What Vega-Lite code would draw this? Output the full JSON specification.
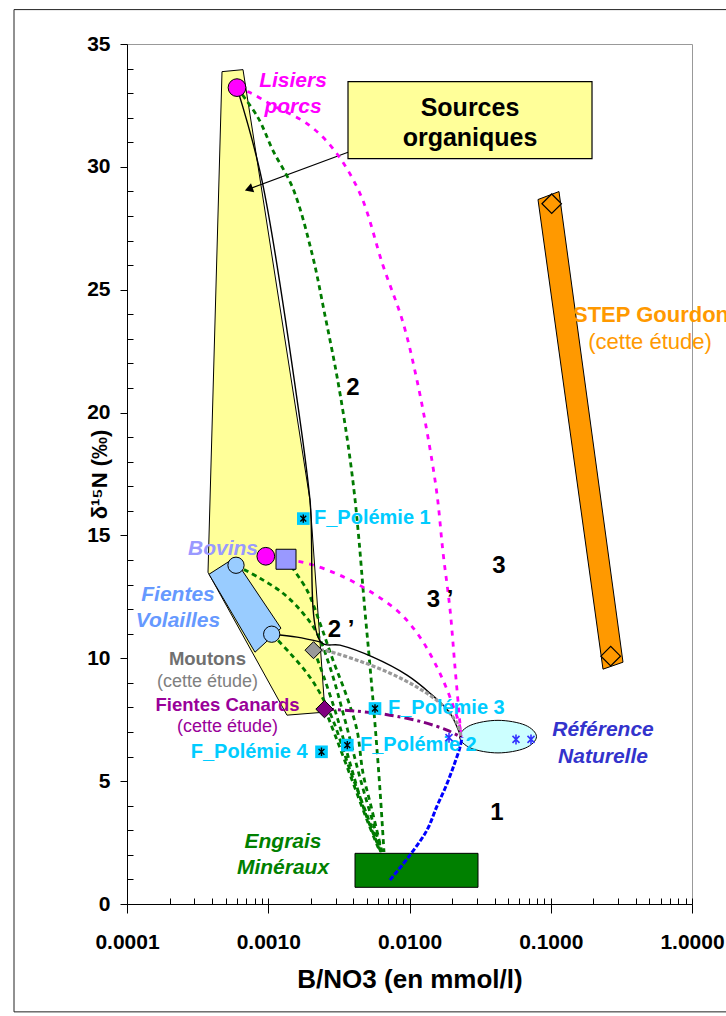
{
  "$schema": "https://vega.github.io/schema/vega-lite/v6.json",
  "width": 565,
  "height": 860,
  "autosize": {"type": "none"},
  "padding": {"left": 127, "top": 44, "right": 34, "bottom": 112},
  "background": "white",
  "config": {
    "view": {"stroke": "#999999", "strokeWidth": 1},
    "font": "Liberation Sans",
    "text": {"font": "Liberation Sans"}
  },
  "datasets": {
    "courbes": [
      {"serie": "Lisiers-Engrais", "i": 1, "x": 0.0006008, "y": 33.225},
      {"serie": "Lisiers-Engrais", "i": 2, "x": 0.0008461, "y": 32.005},
      {"serie": "Lisiers-Engrais", "i": 3, "x": 0.0010806, "y": 30.663},
      {"serie": "Lisiers-Engrais", "i": 4, "x": 0.001497, "y": 29.117},
      {"serie": "Lisiers-Engrais", "i": 5, "x": 0.0020405, "y": 26.474},
      {"serie": "Lisiers-Engrais", "i": 6, "x": 0.002522, "y": 23.953},
      {"serie": "Lisiers-Engrais", "i": 7, "x": 0.0030671, "y": 21.472},
      {"serie": "Lisiers-Engrais", "i": 8, "x": 0.0036101, "y": 18.991},
      {"serie": "Lisiers-Engrais", "i": 9, "x": 0.0040465, "y": 16.836},
      {"serie": "Lisiers-Engrais", "i": 10, "x": 0.0043902, "y": 14.803},
      {"serie": "Lisiers-Engrais", "i": 11, "x": 0.004763, "y": 12.363},
      {"serie": "Lisiers-Engrais", "i": 12, "x": 0.0052523, "y": 9.679},
      {"serie": "Lisiers-Engrais", "i": 13, "x": 0.0056984, "y": 7.32},
      {"serie": "Lisiers-Engrais", "i": 14, "x": 0.0061823, "y": 4.636},
      {"serie": "Lisiers-Engrais", "i": 15, "x": 0.006599, "y": 2.115},

      {"serie": "Lisiers-Référence", "i": 1, "x": 0.0006008, "y": 33.225},
      {"serie": "Lisiers-Référence", "i": 2, "x": 0.0007427, "y": 33.022},
      {"serie": "Lisiers-Référence", "i": 3, "x": 0.0010806, "y": 32.493},
      {"serie": "Lisiers-Référence", "i": 4, "x": 0.0018808, "y": 31.761},
      {"serie": "Lisiers-Référence", "i": 5, "x": 0.0028735, "y": 30.744},
      {"serie": "Lisiers-Référence", "i": 6, "x": 0.0044624, "y": 28.914},
      {"serie": "Lisiers-Référence", "i": 7, "x": 0.0064923, "y": 25.986},
      {"serie": "Lisiers-Référence", "i": 8, "x": 0.0089946, "y": 23.668},
      {"serie": "Lisiers-Référence", "i": 9, "x": 0.0113, "y": 21.309},
      {"serie": "Lisiers-Référence", "i": 10, "x": 0.01352, "y": 18.991},
      {"serie": "Lisiers-Référence", "i": 11, "x": 0.015656, "y": 16.673},
      {"serie": "Lisiers-Référence", "i": 12, "x": 0.017265, "y": 14.315},
      {"serie": "Lisiers-Référence", "i": 13, "x": 0.019352, "y": 11.997},
      {"serie": "Lisiers-Référence", "i": 14, "x": 0.020995, "y": 9.638},
      {"serie": "Lisiers-Référence", "i": 15, "x": 0.022779, "y": 7.32},
      {"serie": "Lisiers-Référence", "i": 16, "x": 0.023153, "y": 6.791},

      {"serie": "Bovins-Référence", "i": 1, "x": 0.000964, "y": 14.152},
      {"serie": "Bovins-Référence", "i": 2, "x": 0.001314, "y": 14.03},
      {"serie": "Bovins-Référence", "i": 3, "x": 0.0018808, "y": 13.867},
      {"serie": "Bovins-Référence", "i": 4, "x": 0.0032207, "y": 13.379},
      {"serie": "Bovins-Référence", "i": 5, "x": 0.0055156, "y": 12.647},
      {"serie": "Bovins-Référence", "i": 6, "x": 0.0085653, "y": 11.834},
      {"serie": "Bovins-Référence", "i": 7, "x": 0.011867, "y": 10.858},
      {"serie": "Bovins-Référence", "i": 8, "x": 0.015656, "y": 9.638},
      {"serie": "Bovins-Référence", "i": 9, "x": 0.019352, "y": 8.418},
      {"serie": "Bovins-Référence", "i": 10, "x": 0.022779, "y": 7.198},
      {"serie": "Bovins-Référence", "i": 11, "x": 0.023153, "y": 6.791},

      {"serie": "Lisiers-2’-Référence", "i": 1, "x": 0.0006008, "y": 33.225},
      {"serie": "Lisiers-2’-Référence", "i": 2, "x": 0.0009031, "y": 29.443},
      {"serie": "Lisiers-2’-Référence", "i": 3, "x": 0.001678, "y": 19.683},
      {"serie": "Lisiers-2’-Référence", "i": 4, "x": 0.001975, "y": 16.43},
      {"serie": "Lisiers-2’-Référence", "i": 5, "x": 0.0023629, "y": 10.655},
      {"serie": "Lisiers-2’-Référence", "i": 6, "x": 0.0032207, "y": 10.533},
      {"serie": "Lisiers-2’-Référence", "i": 7, "x": 0.0055156, "y": 10.045},
      {"serie": "Lisiers-2’-Référence", "i": 8, "x": 0.0096007, "y": 9.313},
      {"serie": "Lisiers-2’-Référence", "i": 9, "x": 0.013968, "y": 8.581},
      {"serie": "Lisiers-2’-Référence", "i": 10, "x": 0.019352, "y": 7.767},
      {"serie": "Lisiers-2’-Référence", "i": 11, "x": 0.023153, "y": 6.791},

      {"serie": "Volailles-2’", "i": 1, "x": 0.001063, "y": 10.98},
      {"serie": "Volailles-2’", "i": 2, "x": 0.0016, "y": 10.86},
      {"serie": "Volailles-2’", "i": 3, "x": 0.0023629, "y": 10.655},

      {"serie": "Moutons-Référence", "i": 1, "x": 0.0021081, "y": 10.329},
      {"serie": "Moutons-Référence", "i": 2, "x": 0.0024412, "y": 10.329},
      {"serie": "Moutons-Référence", "i": 3, "x": 0.0042493, "y": 9.923},
      {"serie": "Moutons-Référence", "i": 4, "x": 0.007277, "y": 9.394},
      {"serie": "Moutons-Référence", "i": 5, "x": 0.0113, "y": 8.825},
      {"serie": "Moutons-Référence", "i": 6, "x": 0.016441, "y": 8.174},
      {"serie": "Moutons-Référence", "i": 7, "x": 0.021691, "y": 7.361},
      {"serie": "Moutons-Référence", "i": 8, "x": 0.023153, "y": 6.791},

      {"serie": "Canards-Référence", "i": 1, "x": 0.002522, "y": 7.93},
      {"serie": "Canards-Référence", "i": 2, "x": 0.0042493, "y": 7.849},
      {"serie": "Canards-Référence", "i": 3, "x": 0.007277, "y": 7.686},
      {"serie": "Canards-Référence", "i": 4, "x": 0.012462, "y": 7.401},
      {"serie": "Canards-Référence", "i": 5, "x": 0.018428, "y": 7.076},
      {"serie": "Canards-Référence", "i": 6, "x": 0.023153, "y": 6.791},

      {"serie": "Engrais-Référence", "i": 1, "x": 0.007277, "y": 0.976},
      {"serie": "Engrais-Référence", "i": 2, "x": 0.010082, "y": 1.993},
      {"serie": "Engrais-Référence", "i": 3, "x": 0.013301, "y": 3.009},
      {"serie": "Engrais-Référence", "i": 4, "x": 0.015656, "y": 3.985},
      {"serie": "Engrais-Référence", "i": 5, "x": 0.01813, "y": 4.799},
      {"serie": "Engrais-Référence", "i": 6, "x": 0.020656, "y": 5.653},
      {"serie": "Engrais-Référence", "i": 7, "x": 0.022779, "y": 6.385},
      {"serie": "Engrais-Référence", "i": 8, "x": 0.023533, "y": 6.791},

      {"serie": "Bovins-Engrais", "i": 1, "x": 0.0013356, "y": 14.03},
      {"serie": "Bovins-Engrais", "i": 2, "x": 0.0018808, "y": 12.769},
      {"serie": "Bovins-Engrais", "i": 3, "x": 0.0023247, "y": 11.427},
      {"serie": "Bovins-Engrais", "i": 4, "x": 0.0028735, "y": 9.923},
      {"serie": "Bovins-Engrais", "i": 5, "x": 0.0036101, "y": 8.418},
      {"serie": "Bovins-Engrais", "i": 6, "x": 0.0042493, "y": 7.076},
      {"serie": "Bovins-Engrais", "i": 7, "x": 0.004686, "y": 5.327},
      {"serie": "Bovins-Engrais", "i": 8, "x": 0.0054264, "y": 3.823},
      {"serie": "Bovins-Engrais", "i": 9, "x": 0.0063872, "y": 2.115},

      {"serie": "Volailles1-Engrais", "i": 1, "x": 0.0005911, "y": 13.786},
      {"serie": "Volailles1-Engrais", "i": 2, "x": 0.0008742, "y": 13.257},
      {"serie": "Volailles1-Engrais", "i": 3, "x": 0.0012718, "y": 12.647},
      {"serie": "Volailles1-Engrais", "i": 4, "x": 0.0017621, "y": 11.834},
      {"serie": "Volailles1-Engrais", "i": 5, "x": 0.0022138, "y": 11.021},
      {"serie": "Volailles1-Engrais", "i": 6, "x": 0.0027363, "y": 9.638},
      {"serie": "Volailles1-Engrais", "i": 7, "x": 0.0034943, "y": 7.483},
      {"serie": "Volailles1-Engrais", "i": 8, "x": 0.0046104, "y": 4.839},
      {"serie": "Volailles1-Engrais", "i": 9, "x": 0.0063872, "y": 2.115},

      {"serie": "Volailles2-Engrais", "i": 1, "x": 0.001063, "y": 10.98},
      {"serie": "Volailles2-Engrais", "i": 2, "x": 0.0014256, "y": 10.207},
      {"serie": "Volailles2-Engrais", "i": 3, "x": 0.0018808, "y": 9.394},
      {"serie": "Volailles2-Engrais", "i": 4, "x": 0.0023247, "y": 8.581},
      {"serie": "Volailles2-Engrais", "i": 5, "x": 0.0028735, "y": 7.483},
      {"serie": "Volailles2-Engrais", "i": 6, "x": 0.003791, "y": 5.449},
      {"serie": "Volailles2-Engrais", "i": 7, "x": 0.0050022, "y": 3.619},
      {"serie": "Volailles2-Engrais", "i": 8, "x": 0.0062839, "y": 2.115},

      {"serie": "Moutons-Engrais", "i": 1, "x": 0.0021081, "y": 10.329},
      {"serie": "Moutons-Engrais", "i": 2, "x": 0.002522, "y": 9.109},
      {"serie": "Moutons-Engrais", "i": 3, "x": 0.0031176, "y": 7.483},
      {"serie": "Moutons-Engrais", "i": 4, "x": 0.0039167, "y": 5.449},
      {"serie": "Moutons-Engrais", "i": 5, "x": 0.0049208, "y": 3.619},
      {"serie": "Moutons-Engrais", "i": 6, "x": 0.0062839, "y": 2.115},

      {"serie": "Canards-Engrais", "i": 1, "x": 0.002522, "y": 7.93},
      {"serie": "Canards-Engrais", "i": 2, "x": 0.0030671, "y": 6.669},
      {"serie": "Canards-Engrais", "i": 3, "x": 0.0039167, "y": 5.043},
      {"serie": "Canards-Engrais", "i": 4, "x": 0.0050022, "y": 3.416},
      {"serie": "Canards-Engrais", "i": 5, "x": 0.0061823, "y": 2.115}
    ],
    "points": [
      {"nom": "Lisiers porcs", "x": 0.00060084, "y": 33.225},
      {"nom": "Bovins", "x": 0.00096084, "y": 14.152},
      {"nom": "Bovins moyenne", "x": 0.0013356, "y": 14.03},
      {"nom": "Fientes volailles", "x": 0.00059113, "y": 13.786},
      {"nom": "Fientes volailles", "x": 0.0010578, "y": 10.98},
      {"nom": "Moutons", "x": 0.002091, "y": 10.33},
      {"nom": "Fientes canards", "x": 0.0025017, "y": 7.93},
      {"nom": "STEP Gourdon", "x": 0.10156, "y": 28.5},
      {"nom": "STEP Gourdon", "x": 0.26572, "y": 10.085},
      {"nom": "Référence naturelle", "x": 0.056752, "y": 6.698},
      {"nom": "Référence naturelle", "x": 0.072473, "y": 6.698},
      {"nom": "Référence naturelle", "x": 0.01904, "y": 6.771},
      {"nom": "F_Polémie", "x": 0.0017707, "y": 15.685},
      {"nom": "F_Polémie", "x": 0.0056984, "y": 7.958},
      {"nom": "F_Polémie", "x": 0.0036278, "y": 6.466},
      {"nom": "F_Polémie", "x": 0.0023822, "y": 6.194}
    ]
  },
  "encoding": {
    "x": {"field": "x", "type": "quantitative", "scale": {"type": "log", "domain": [0.0001, 1], "nice": false}, "axis": null},
    "y": {"field": "y", "type": "quantitative", "scale": {"domain": [0, 35], "nice": false, "zero": false}, "axis": null}
  },
  "resolve": {"axis": {"x": "independent", "y": "independent"}, "scale": {"color": "independent"}},
  "layer": [
    {
      "data": {"values": [{"x": 0.00001585, "x2": 2.2, "y": 36.4, "y2": -4.39}]},
      "mark": {"type": "rect", "fillOpacity": 0, "stroke": "#222222", "strokeWidth": 1, "clip": false},
      "encoding": {"x2": {"field": "x2"}, "y2": {"field": "y2"}}
    },
    {
      "data": {"values": [
        {"i": 1, "x": 0.00047053, "y": 33.875},
        {"i": 2, "x": 0.00066264, "y": 33.957},
        {"i": 3, "x": 0.001975, "y": 16.43},
        {"i": 4, "x": 0.002522, "y": 7.808},
        {"i": 5, "x": 0.001357, "y": 7.686},
        {"i": 6, "x": 0.00037451, "y": 13.5}
      ]},
      "mark": {"type": "line", "interpolate": "linear-closed", "fill": "#FFFF99", "stroke": "black", "strokeWidth": 1},
      "encoding": {
        "x": {
          "field": "x", "type": "quantitative",
          "scale": {"type": "log", "domain": [0.0001, 1], "nice": false},
          "axis": {
            "orient": "bottom", "title": "B/NO3 (en mmol/l)",
            "values": [0.0001, 0.001, 0.01, 0.1, 1], "format": ".4f",
            "grid": false, "domainColor": "black", "domainWidth": 1, "tickColor": "black", "tickSize": 9,
            "labelFont": "Liberation Sans", "labelFontSize": 21, "labelFontWeight": "bold", "labelColor": "black",
            "labelPadding": 18, "labelFlush": false, "labelOverlap": false,
            "titleFont": "Liberation Sans", "titleFontSize": 26, "titleFontWeight": "bold", "titleColor": "black", "titlePadding": 14
          }
        },
        "y": {
          "field": "y", "type": "quantitative",
          "scale": {"domain": [0, 35], "nice": false, "zero": false},
          "axis": {
            "orient": "left", "title": "δ¹⁵N (‰)",
            "values": [0, 5, 10, 15, 20, 25, 30, 35],
            "grid": false, "domainColor": "black", "domainWidth": 1, "tickColor": "black", "tickSize": 7,
            "labelFont": "Liberation Sans", "labelFontSize": 21, "labelFontWeight": "bold", "labelColor": "black",
            "labelPadding": 10,
            "titleFont": "Liberation Sans", "titleFontSize": 22, "titleFontWeight": "bold", "titleColor": "black",
            "titleX": -28, "titleY": 430, "titleAngle": 270, "titleAlign": "center", "titleBaseline": "middle"
          }
        },
        "order": {"field": "i", "type": "quantitative"}
      }
    },
    {
      "data": {"values": [
        {"i": 1, "x": 0.00038066, "y": 13.42},
        {"i": 2, "x": 0.00057216, "y": 14.07},
        {"i": 3, "x": 0.001231, "y": 11.224},
        {"i": 4, "x": 0.0008057, "y": 10.248}
      ]},
      "mark": {"type": "line", "interpolate": "linear-closed", "fill": "#99CCFF", "stroke": "black", "strokeWidth": 1},
      "encoding": {
        "x": {
          "field": "x", "type": "quantitative",
          "scale": {"type": "log", "domain": [0.0001, 1], "nice": false},
          "axis": {
            "orient": "bottom", "title": null, "labels": false, "domain": false, "grid": false,
            "tickColor": "black", "tickSize": -6,
            "values": [0.0001, 0.0002, 0.0003, 0.0004, 0.0005, 0.0006, 0.0007, 0.0008, 0.0009,
                       0.001, 0.002, 0.003, 0.004, 0.005, 0.006, 0.007, 0.008, 0.009,
                       0.01, 0.02, 0.03, 0.04, 0.05, 0.06, 0.07, 0.08, 0.09,
                       0.1, 0.2, 0.3, 0.4, 0.5, 0.6, 0.7, 0.8, 0.9, 1]
          }
        },
        "y": {
          "field": "y", "type": "quantitative",
          "scale": {"domain": [0, 35], "nice": false, "zero": false},
          "axis": {
            "orient": "left", "title": null, "labels": false, "domain": false, "grid": false,
            "tickColor": "black", "tickSize": -6,
            "values": [1, 2, 3, 4, 6, 7, 8, 9, 11, 12, 13, 14, 16, 17, 18, 19, 21, 22, 23, 24, 26, 27, 28, 29, 31, 32, 33, 34]
          }
        },
        "order": {"field": "i", "type": "quantitative"}
      }
    },
    {
      "data": {"values": [
        {"i": 1, "x": 0.081232, "y": 28.67},
        {"i": 2, "x": 0.11439, "y": 28.995},
        {"i": 3, "x": 0.32472, "y": 9.841},
        {"i": 4, "x": 0.23437, "y": 9.557}
      ]},
      "mark": {"type": "line", "interpolate": "linear-closed", "fill": "#FF9900", "stroke": "black", "strokeWidth": 1},
      "encoding": {"order": {"field": "i", "type": "quantitative"}}
    },
    {
      "data": {"values": [{"x": 0.0041131, "x2": 0.030548, "y": 2.062, "y2": 0.679}]},
      "mark": {"type": "rect", "fill": "#008000", "stroke": "black", "strokeWidth": 1},
      "encoding": {"x2": {"field": "x2"}, "y2": {"field": "y2"}}
    },
    {
      "data": {"values": [
        {"i": 1, "x": 0.079273, "y": 6.812},
        {"i": 2, "x": 0.065936, "y": 7.279},
        {"i": 3, "x": 0.04232, "y": 7.475},
        {"i": 4, "x": 0.027163, "y": 7.279},
        {"i": 5, "x": 0.022593, "y": 6.812},
        {"i": 6, "x": 0.027163, "y": 6.344},
        {"i": 7, "x": 0.04232, "y": 6.149},
        {"i": 8, "x": 0.065936, "y": 6.344}
      ]},
      "mark": {"type": "line", "interpolate": "cardinal-closed", "fill": "#CCFFFF", "stroke": "black", "strokeWidth": 1},
      "encoding": {"order": {"field": "i", "type": "quantitative"}}
    },
    {
      "data": {"values": [{"x": 0.00367, "x2": 0.19593, "y": 33.469, "y2": 30.338}]},
      "mark": {"type": "rect", "fill": "#FFFF99", "stroke": "black", "strokeWidth": 1.2},
      "encoding": {"x2": {"field": "x2"}, "y2": {"field": "y2"}}
    },
    {
      "data": {"values": [
        {"i": 1, "x": 0.00367, "y": 30.594},
        {"i": 2, "x": 0.0007277, "y": 29.093}
      ]},
      "mark": {"type": "line", "color": "black", "strokeWidth": 1.2},
      "encoding": {"order": {"field": "i", "type": "quantitative"}}
    },
    {
      "data": {"values": [{"x": 0.0007277, "y": 29.093}]},
      "mark": {"type": "point", "shape": "triangle-up", "size": 90, "angle": 250, "filled": true, "color": "black", "opacity": 1}
    },
    {
      "data": {"name": "courbes"},
      "transform": [{"filter": {"field": "serie", "oneOf": ["Lisiers-Engrais", "Bovins-Engrais", "Volailles1-Engrais", "Volailles2-Engrais", "Moutons-Engrais", "Canards-Engrais"]}}],
      "mark": {"type": "line", "interpolate": "catmull-rom", "color": "#007A00", "strokeWidth": 2.8, "strokeDash": [5, 4]},
      "encoding": {"detail": {"field": "serie"}, "order": {"field": "i", "type": "quantitative"}}
    },
    {
      "data": {"name": "courbes"},
      "transform": [{"filter": {"field": "serie", "oneOf": ["Lisiers-Référence", "Bovins-Référence"]}}],
      "mark": {"type": "line", "interpolate": "catmull-rom", "color": "#FF00FF", "strokeWidth": 2.8, "strokeDash": [5, 6]},
      "encoding": {"detail": {"field": "serie"}, "order": {"field": "i", "type": "quantitative"}}
    },
    {
      "data": {"name": "courbes"},
      "transform": [{"filter": {"field": "serie", "oneOf": ["Lisiers-2’-Référence", "Volailles-2’"]}}],
      "mark": {"type": "line", "interpolate": "catmull-rom", "color": "black", "strokeWidth": 1.4},
      "encoding": {"detail": {"field": "serie"}, "order": {"field": "i", "type": "quantitative"}}
    },
    {
      "data": {"name": "courbes"},
      "transform": [{"filter": {"field": "serie", "equal": "Moutons-Référence"}}],
      "mark": {"type": "line", "interpolate": "catmull-rom", "color": "#999999", "strokeWidth": 3.2, "strokeDash": [4, 2]},
      "encoding": {"order": {"field": "i", "type": "quantitative"}}
    },
    {
      "data": {"name": "courbes"},
      "transform": [{"filter": {"field": "serie", "equal": "Canards-Référence"}}],
      "mark": {"type": "line", "interpolate": "catmull-rom", "color": "#800080", "strokeWidth": 3, "strokeDash": [9, 4, 3, 4]},
      "encoding": {"order": {"field": "i", "type": "quantitative"}}
    },
    {
      "data": {"name": "courbes"},
      "transform": [{"filter": {"field": "serie", "equal": "Engrais-Référence"}}],
      "mark": {"type": "line", "interpolate": "catmull-rom", "color": "#0000FF", "strokeWidth": 3, "strokeDash": [5, 2]},
      "encoding": {"order": {"field": "i", "type": "quantitative"}}
    },
    {
      "data": {"values": [
        {"texte": "Lisiers", "x": 0.001497, "y": 33.51},
        {"texte": "porcs", "x": 0.001497, "y": 32.45}
      ]},
      "mark": {"type": "text", "fontSize": 21, "fontWeight": "bold", "fontStyle": "italic", "color": "#FF00FF", "align": "center", "baseline": "middle"},
      "encoding": {"text": {"field": "texte"}}
    },
    {
      "data": {"values": [{"texte": "Bovins", "x": 0.00047824, "y": 14.437}]},
      "mark": {"type": "text", "fontSize": 21, "fontWeight": "bold", "fontStyle": "italic", "color": "#9999FF", "align": "center", "baseline": "middle"},
      "encoding": {"text": {"field": "texte"}}
    },
    {
      "data": {"values": [
        {"texte": "Fientes", "x": 0.00022965, "y": 12.566},
        {"texte": "Volailles", "x": 0.00022965, "y": 11.509}
      ]},
      "mark": {"type": "text", "fontSize": 21, "fontWeight": "bold", "fontStyle": "italic", "color": "#6699FF", "align": "center", "baseline": "middle"},
      "encoding": {"text": {"field": "texte"}}
    },
    {
      "data": {"values": [
        {"texte": "Engrais", "x": 0.0012718, "y": 2.521},
        {"texte": "Minéraux", "x": 0.0012718, "y": 1.464}
      ]},
      "mark": {"type": "text", "fontSize": 21, "fontWeight": "bold", "fontStyle": "italic", "color": "#008000", "align": "center", "baseline": "middle"},
      "encoding": {"text": {"field": "texte"}}
    },
    {
      "data": {"values": [
        {"texte": "Référence", "x": 0.23437, "y": 7.076},
        {"texte": "Naturelle", "x": 0.23437, "y": 5.978}
      ]},
      "mark": {"type": "text", "fontSize": 21, "fontWeight": "bold", "fontStyle": "italic", "color": "#3333CC", "align": "center", "baseline": "middle"},
      "encoding": {"text": {"field": "texte"}}
    },
    {
      "data": {"values": [
        {"texte": "Sources", "x": 0.026812, "y": 32.41},
        {"texte": "organiques", "x": 0.026812, "y": 31.19}
      ]},
      "mark": {"type": "text", "fontSize": 25, "fontWeight": "bold", "color": "black", "align": "center", "baseline": "middle"},
      "encoding": {"text": {"field": "texte"}}
    },
    {
      "data": {"values": [
        {"texte": "2", "x": 0.003981, "y": 20.98},
        {"texte": "3 ’", "x": 0.016441, "y": 12.363},
        {"texte": "3", "x": 0.043016, "y": 13.745},
        {"texte": "2 ’", "x": 0.0032736, "y": 11.143},
        {"texte": "1", "x": 0.041637, "y": 3.701}
      ]},
      "mark": {"type": "text", "fontSize": 24, "fontWeight": "bold", "color": "black", "align": "center", "baseline": "middle"},
      "encoding": {"text": {"field": "texte"}}
    },
    {
      "data": {"values": [
        {"texte": "F_Polémie 1", "x": 0.0021081, "y": 15.697},
        {"texte": "F_Polémie 3", "x": 0.0070432, "y": 7.971},
        {"texte": "F_Polémie 2", "x": 0.0044624, "y": 6.466}
      ]},
      "mark": {"type": "text", "fontSize": 20, "fontWeight": "bold", "color": "#00CCFF", "align": "left", "baseline": "middle"},
      "encoding": {"text": {"field": "texte"}}
    },
    {
      "data": {"values": [{"texte": "F_Polémie 4", "x": 0.0018962, "y": 6.181}]},
      "mark": {"type": "text", "fontSize": 20, "fontWeight": "bold", "color": "#00CCFF", "align": "right", "baseline": "middle"},
      "encoding": {"text": {"field": "texte"}}
    },
    {
      "data": {"values": [{"texte": "Moutons", "x": 0.000371, "y": 9.963}]},
      "mark": {"type": "text", "fontSize": 18.5, "fontWeight": "bold", "color": "#707070", "align": "center", "baseline": "middle"},
      "encoding": {"text": {"field": "texte"}}
    },
    {
      "data": {"values": [{"texte": "(cette étude)", "x": 0.000371, "y": 9.028}]},
      "mark": {"type": "text", "fontSize": 18, "color": "#808080", "align": "center", "baseline": "middle"},
      "encoding": {"text": {"field": "texte"}}
    },
    {
      "data": {"values": [{"texte": "Fientes Canards", "x": 0.000515, "y": 8.093}]},
      "mark": {"type": "text", "fontSize": 18.5, "fontWeight": "bold", "color": "#990099", "align": "center", "baseline": "middle"},
      "encoding": {"text": {"field": "texte"}}
    },
    {
      "data": {"values": [{"texte": "(cette étude)", "x": 0.000515, "y": 7.198}]},
      "mark": {"type": "text", "fontSize": 18, "color": "#990099", "align": "center", "baseline": "middle"},
      "encoding": {"text": {"field": "texte"}}
    },
    {
      "data": {"values": [{"texte": "STEP Gourdon", "x": 0.14373, "y": 23.953}]},
      "mark": {"type": "text", "fontSize": 22, "fontWeight": "bold", "color": "#FF9900", "align": "left", "baseline": "middle", "clip": false},
      "encoding": {"text": {"field": "texte"}}
    },
    {
      "data": {"values": [{"texte": "(cette étude)", "x": 0.50431, "y": 22.855}]},
      "mark": {"type": "text", "fontSize": 22, "color": "#FF9900", "align": "center", "baseline": "middle"},
      "encoding": {"text": {"field": "texte"}}
    },
    {
      "data": {"name": "points"},
      "transform": [{"filter": {"field": "nom", "oneOf": ["Lisiers porcs", "Bovins"]}}],
      "mark": {"type": "point", "shape": "circle", "size": 314, "filled": true, "fill": "#FF00FF", "stroke": "black", "strokeWidth": 1, "opacity": 1}
    },
    {
      "data": {"name": "points"},
      "transform": [{"filter": {"field": "nom", "equal": "Bovins moyenne"}}],
      "mark": {"type": "point", "shape": "square", "size": 400, "filled": true, "fill": "#9999FF", "stroke": "black", "strokeWidth": 1, "opacity": 1}
    },
    {
      "data": {"name": "points"},
      "transform": [{"filter": {"field": "nom", "equal": "Fientes volailles"}}],
      "mark": {"type": "point", "shape": "circle", "size": 265, "filled": true, "fill": "#99CCFF", "stroke": "black", "strokeWidth": 1, "opacity": 1}
    },
    {
      "data": {"name": "points"},
      "transform": [{"filter": {"field": "nom", "equal": "Moutons"}}],
      "mark": {"type": "point", "shape": "diamond", "size": 289, "filled": true, "fill": "#999999", "stroke": "black", "strokeWidth": 1, "opacity": 1}
    },
    {
      "data": {"name": "points"},
      "transform": [{"filter": {"field": "nom", "equal": "Fientes canards"}}],
      "mark": {"type": "point", "shape": "diamond", "size": 300, "filled": true, "fill": "#800080", "stroke": "black", "strokeWidth": 1, "opacity": 1}
    },
    {
      "data": {"name": "points"},
      "transform": [{"filter": {"field": "nom", "equal": "STEP Gourdon"}}],
      "mark": {"type": "point", "shape": "diamond", "size": 380, "filled": true, "fill": "#FF9900", "stroke": "black", "strokeWidth": 1.2, "opacity": 1}
    },
    {
      "data": {"name": "points"},
      "transform": [{"filter": {"field": "nom", "equal": "Référence naturelle"}}],
      "mark": {"type": "point", "shape": "M-0.7,-0.7L0.7,0.7M-0.7,0.7L0.7,-0.7M0,-1L0,1", "size": 100, "filled": false, "stroke": "#3333FF", "strokeWidth": 1.6, "opacity": 1}
    },
    {
      "data": {"name": "points"},
      "transform": [{"filter": {"field": "nom", "equal": "F_Polémie"}}],
      "mark": {"type": "point", "shape": "square", "size": 160, "filled": true, "fill": "#00CCFF", "strokeWidth": 0, "opacity": 1}
    },
    {
      "data": {"name": "points"},
      "transform": [{"filter": {"field": "nom", "equal": "F_Polémie"}}],
      "mark": {"type": "point", "shape": "M-0.7,-0.7L0.7,0.7M-0.7,0.7L0.7,-0.7M0,-1L0,1", "size": 70, "filled": false, "stroke": "black", "strokeWidth": 1.4, "opacity": 1}
    }
  ]
}
